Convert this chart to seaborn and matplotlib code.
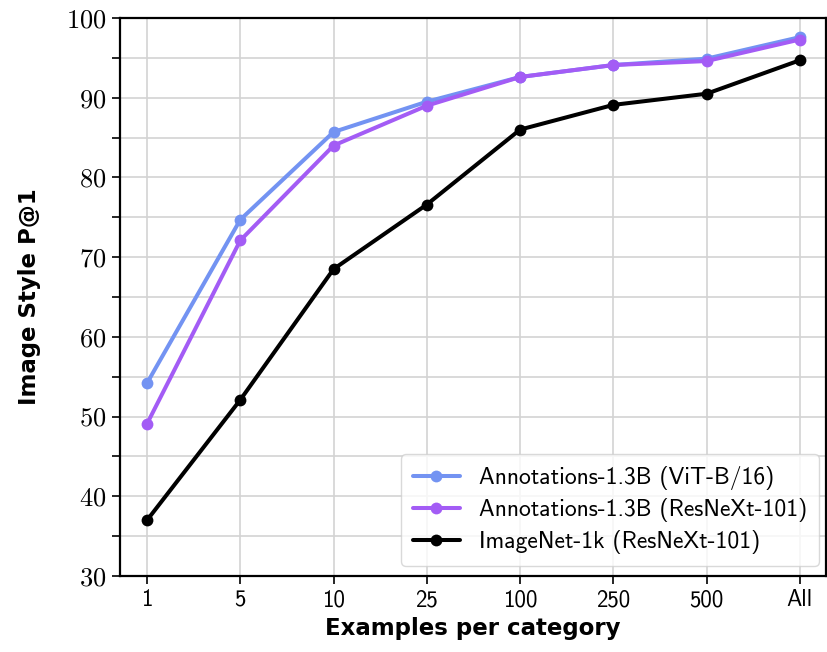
import matplotlib
matplotlib.use("Agg")
import matplotlib.pyplot as plt
import seaborn as sns
import pandas as pd
from matplotlib.ticker import MultipleLocator

# examples per category (x categories)
shots = ["1", "5", "10", "25", "100", "250", "500", "All"]

# Image Style P@1
vit_b16 = [54.2, 74.7, 85.7, 89.5, 92.6, 94.1, 94.9, 97.6]
rnx_ann = [49.1, 72.1, 84.0, 89.0, 92.6, 94.1, 94.6, 97.3]
rnx_in1k = [37.0, 52.1, 68.5, 76.6, 86.0, 89.1, 90.5, 94.7]

labels = ["Annotations-1.3B (ViT-B/16)",
          "Annotations-1.3B (ResNeXt-101)",
          "ImageNet-1k (ResNeXt-101)"]
colors = ["#7393f2", "#a35cf5", "#000000"]

rows = []
for lab, vals in zip(labels, [vit_b16, rnx_ann, rnx_in1k]):
    for s, v in zip(shots, vals):
        rows.append({"shots": s, "p1": v, "model": lab})
df = pd.DataFrame(rows)
df["pos"] = df["shots"].map({s: i for i, s in enumerate(shots)})

sns.set_style("white")
plt.rcParams["axes.formatter.use_mathtext"] = True
plt.rcParams["text.color"] = "black"
plt.rcParams["axes.labelcolor"] = "black"
plt.rcParams["xtick.color"] = "black"
plt.rcParams["ytick.color"] = "black"

fig = plt.figure(figsize=(8.28, 6.52), dpi=100)
ax = fig.add_axes([120 / 828, 76 / 652, 706 / 828, 558 / 652])

sns.lineplot(data=df, x="pos", y="p1", hue="model", hue_order=labels,
             palette=dict(zip(labels, colors)), marker="o", markersize=8.5,
             markeredgewidth=0, linewidth=2.9, ax=ax)

ax.set_xlim(-0.29, 7.28)
ax.set_ylim(30, 100)
ax.set_xticks(range(len(shots)))
ax.set_xticklabels(shots, family="cmss10", fontsize=16.5)
ax.yaxis.set_major_locator(MultipleLocator(10))
ax.yaxis.set_minor_locator(MultipleLocator(5))
for t in ax.get_yticklabels():
    t.set_family("cmr10")
    t.set_fontsize(19)

ax.grid(True, which="both", color="#d3d3d3", linewidth=1.2)
ax.set_axisbelow(True)
ax.tick_params(axis="both", which="both", direction="out", length=6,
               width=1.2, color="black", left=True, bottom=True)
ax.tick_params(axis="y", which="minor", length=6)
for sp in ax.spines.values():
    sp.set_color("black")
    sp.set_linewidth(1.6)

ax.set_xlabel("Examples per category", fontsize=16.5, fontweight="bold", labelpad=4)
ax.set_ylabel("Image Style P@1", fontsize=16.5, fontweight="bold", labelpad=18)

ax.legend(loc="lower right", prop={"family": "cmss10", "size": 17},
          frameon=True, framealpha=0.8, edgecolor="#d0d0d0",
          handlelength=2.0, borderpad=0.5, labelspacing=0.35,
          borderaxespad=0.3, bbox_to_anchor=(1.0, 0.005))

fig.savefig("out.png", dpi=100)
